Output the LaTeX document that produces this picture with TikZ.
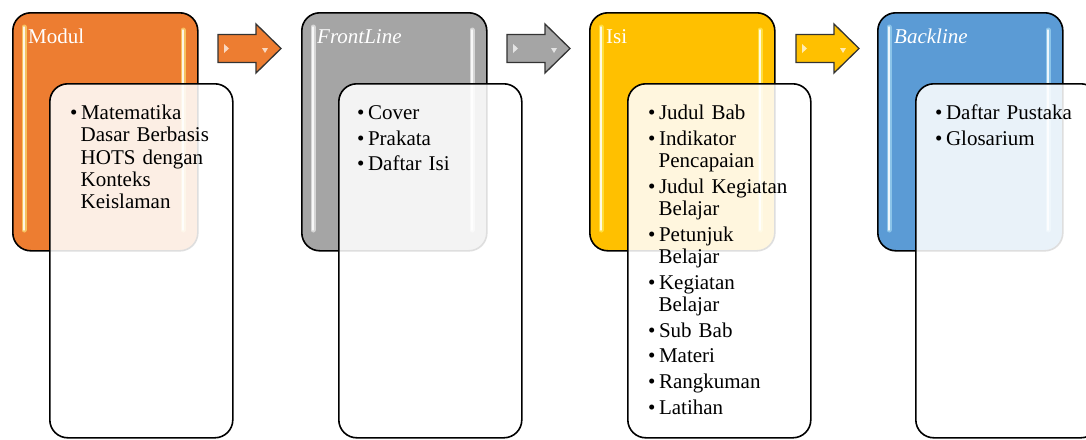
\documentclass[tikz,border=0pt]{standalone}
\usepackage{fontspec}
\setmainfont{Liberation Serif}
\definecolor{cOrange}{HTML}{ED7D31}
\definecolor{cGray}{HTML}{A5A5A5}
\definecolor{cYellow}{HTML}{FFC000}
\definecolor{cBlue}{HTML}{5B9BD5}
\newenvironment{blist}{\begin{list}{\textbullet}{\setlength{\leftmargin}{10.5pt}\setlength{\labelwidth}{7pt}\setlength{\labelsep}{3.5pt}\setlength{\itemsep}{3.4pt}\setlength{\parsep}{0pt}\setlength{\topsep}{0pt}\setlength{\partopsep}{0pt}\setlength{\itemindent}{0pt}}}{\end{list}}
\tikzset{
  colbox/.style={draw=black, line width=1.6pt, rounded corners=18pt, fill=#1,
    minimum width=185pt, minimum height=238pt, anchor=north west, inner sep=0pt},
  whitebox/.style={draw=black, line width=1.6pt, rounded corners=18pt, fill=white,
    fill opacity=0.87, minimum width=183pt, minimum height=354pt, anchor=north west, inner sep=0pt},
  ttl/.style={text=white, anchor=base west, inner sep=0pt, font=\fontsize{21}{22}\selectfont},
  lst/.style={anchor=north west, inner sep=0pt, text width=170pt, align=left,
    font=\fontsize{21}{22.3}\selectfont},
  arrowfill/.style={draw=black!80, line width=1.3pt, line join=miter,
    top color=#1, middle color=#1!45!white, bottom color=#1},
  glowline/.style={draw=#1, line width=5pt, line cap=round, draw opacity=0.55},
  coreline/.style={draw=white, line width=1.4pt, line cap=round, draw opacity=0.85},
  spark/.style={fill=white, fill opacity=0.7, draw=none}
}
\begin{document}
\begin{tikzpicture}[x=1pt,y=-1pt]
\useasboundingbox (0,0) rectangle (1086,439);

% coloured blocks
\node[colbox=cOrange] (b1) at (12,12) {};
\node[colbox=cGray]   (b2) at (301,12) {};
\node[colbox=cYellow] (b3) at (589,12) {};
\node[colbox=cBlue]   (b4) at (877,12) {};

% glossy highlights
\foreach \bx/\gc in {12/yellow!45!white, 301/white, 589/yellow!55!white, 877/cyan!30!white}{
  \draw[glowline=\gc] (\bx+12,27) -- (\bx+12,230);
  \draw[coreline] (\bx+12,27) -- (\bx+12,230);
  \draw[glowline=\gc] (\bx+171,30) -- (\bx+171,230);
  \draw[coreline] (\bx+171,30) -- (\bx+171,230);
}

% titles
\node[ttl] (h1) at (28,43) {Modul};
\node[ttl] (h2) at (317,43) {\itshape FrontLine};
\node[ttl] (h3) at (606,43) {Isi};
\node[ttl] (h4) at (894,43) {\itshape Backline};

% block arrows
\foreach \ax/\cc in {218/cOrange, 507/cGray, 796/cYellow}{
  \path[arrowfill=\cc] (\ax,34.5) -- (\ax+38,34.5) -- (\ax+38,24) -- (\ax+63,48.5)
     -- (\ax+38,73) -- (\ax+38,62.5) -- (\ax,62.5) -- cycle;
  \path[spark] (\ax+6,44) -- (\ax+11,48.5) -- (\ax+6,53) -- cycle;
  \path[spark] (\ax+44,48) -- (\ax+50,48) -- (\ax+47,53) -- cycle;
}

% white boxes
\node[whitebox] (w1) at (49,83) {};
\node[whitebox] (w2) at (338,83) {};
\node[whitebox] (w3) at (627,83) {};
\node[whitebox] (w4) at (915,83) {};

% lists
\node[lst] (t1) at (70,97) {\begin{blist}\item Matematika\newline Dasar Berbasis\newline HOTS dengan\newline Konteks\newline Keislaman\end{blist}};
\node[lst] (t2) at (357,97) {\begin{blist}\item Cover\item Prakata\item Daftar Isi\end{blist}};
\node[lst] (t3) at (648,97) {\begin{blist}\item Judul Bab\item Indikator\newline Pencapaian\item Judul Kegiatan\newline Belajar\item Petunjuk\newline Belajar\item Kegiatan\newline Belajar\item Sub Bab\item Materi\item Rangkuman\item Latihan\end{blist}};
\node[lst] (t4) at (935,97) {\begin{blist}\item Daftar Pustaka\item Glosarium\end{blist}};
\end{tikzpicture}
\end{document}
